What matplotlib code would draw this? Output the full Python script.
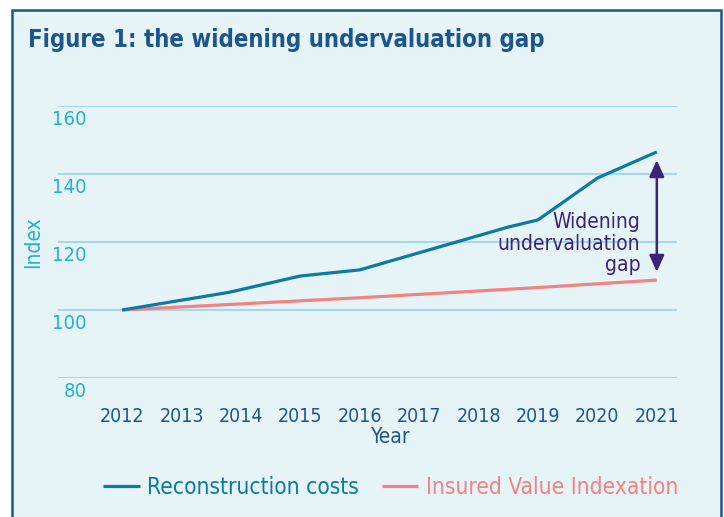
"""
Figure 1: the widening undervaluation gap
"""

import matplotlib.pyplot as plt
from matplotlib.patches import Rectangle
from matplotlib.transforms import offset_copy

# data
recon_years = [2012, 2013.8, 2015, 2016, 2018.5, 2019, 2020, 2021]
recon_costs = [100, 105.2, 110, 111.8, 124.4, 126.5, 138.8, 146.5]

insured_years = [2012, 2013, 2014, 2015, 2016, 2017, 2018, 2019, 2020, 2021]
insured_index = [100, 100.9, 101.8, 102.7, 103.6, 104.6, 105.6, 106.6, 107.7, 108.8]

year_ticks = list(range(2012, 2022))
y_ticks = [80, 100, 120, 140, 160]
gap_top, gap_bottom = 144.1, 111.2

BG = "#e6f4f8"
NAVY = "#1c568f"
CYAN = "#22b2cf"
BLUE = "#0b7ba6"
SALMON = "#f28383"
PURPLE = "#3a2379"
GRID = "#a3d9ea"

plt.rcParams["font.family"] = ["DejaVu Sans"]
plt.rcParams["font.stretch"] = "condensed"

W, H = 724, 517
fig = plt.figure(figsize=(W / 100, H / 100), dpi=100)
fig.patch.set_facecolor("white")

# framed panel
fig.patches.append(Rectangle((12 / W, -0.05), 709 / W, 1 - 10 / H + 0.05,
                             transform=fig.transFigure, facecolor=BG,
                             edgecolor=NAVY, linewidth=1.8, zorder=-5))

fig.text(28 / W, 1 - 40 / H, "Figure 1: the widening undervaluation gap",
         fontsize=17.2, fontweight="bold", color=NAVY, va="center", ha="left")

ax = fig.add_axes([58 / W, 1 - 378 / H, 619 / W, 272 / H])
ax.set_facecolor("none")
ax.set_xlim(2010.92, 2021.34)
ax.set_ylim(80, 160)
for s in ax.spines.values():
    s.set_visible(False)

ax.set_yticks(y_ticks)
ax.yaxis.grid(True, color=GRID, linewidth=1.5)
ax.tick_params(axis="y", length=0, labelleft=False)
lab_tr = offset_copy(ax.get_yaxis_transform(), fig=fig, y=-3, units="points")
for t in y_ticks:
    ax.text((87 - 58) / 619, t, str(t), transform=lab_tr, ha="right", va="top",
            fontsize=14.5, color=CYAN)

ax.set_xticks(year_ticks)
ax.set_xticklabels([str(y) for y in year_ticks], fontsize=14, color=NAVY)
ax.tick_params(axis="x", length=0, pad=21)

ax.plot(recon_years, recon_costs, color=BLUE, linewidth=2.3, label="Reconstruction costs",
        solid_capstyle="butt", zorder=3)
ax.plot(insured_years, insured_index, color=SALMON, linewidth=2.3,
        label="Insured Value Indexation", solid_capstyle="butt", zorder=2)

ax.annotate("", xy=(2021, gap_top), xytext=(2021, gap_bottom),
            arrowprops=dict(arrowstyle="<|-|>,head_length=1.0,head_width=0.45",
                            color=PURPLE, lw=1.8, shrinkA=0, shrinkB=0))
ax.text(2020.72, 119.5, "Widening\nundervaluation\ngap", ha="right", va="center",
        fontsize=15, color=PURPLE, linespacing=1.1)

fig.text(33 / W, 1 - 242 / H, "Index", rotation=90, fontsize=15, color=CYAN,
         ha="center", va="center")
fig.text(391 / W, 1 - 437 / H, "Year", fontsize=15, color=NAVY,
         ha="center", va="center")

leg = ax.legend(loc="center left", bbox_to_anchor=(92 / W, 1 - 487 / H),
                bbox_transform=fig.transFigure, ncol=2, frameon=False,
                fontsize=16.3, handlelength=1.6, handletextpad=0.35,
                columnspacing=1.0, borderpad=0)
for txt, line in zip(leg.get_texts(), leg.get_lines()):
    txt.set_color(line.get_color())

fig.savefig("out.png", dpi=100, facecolor="white")
